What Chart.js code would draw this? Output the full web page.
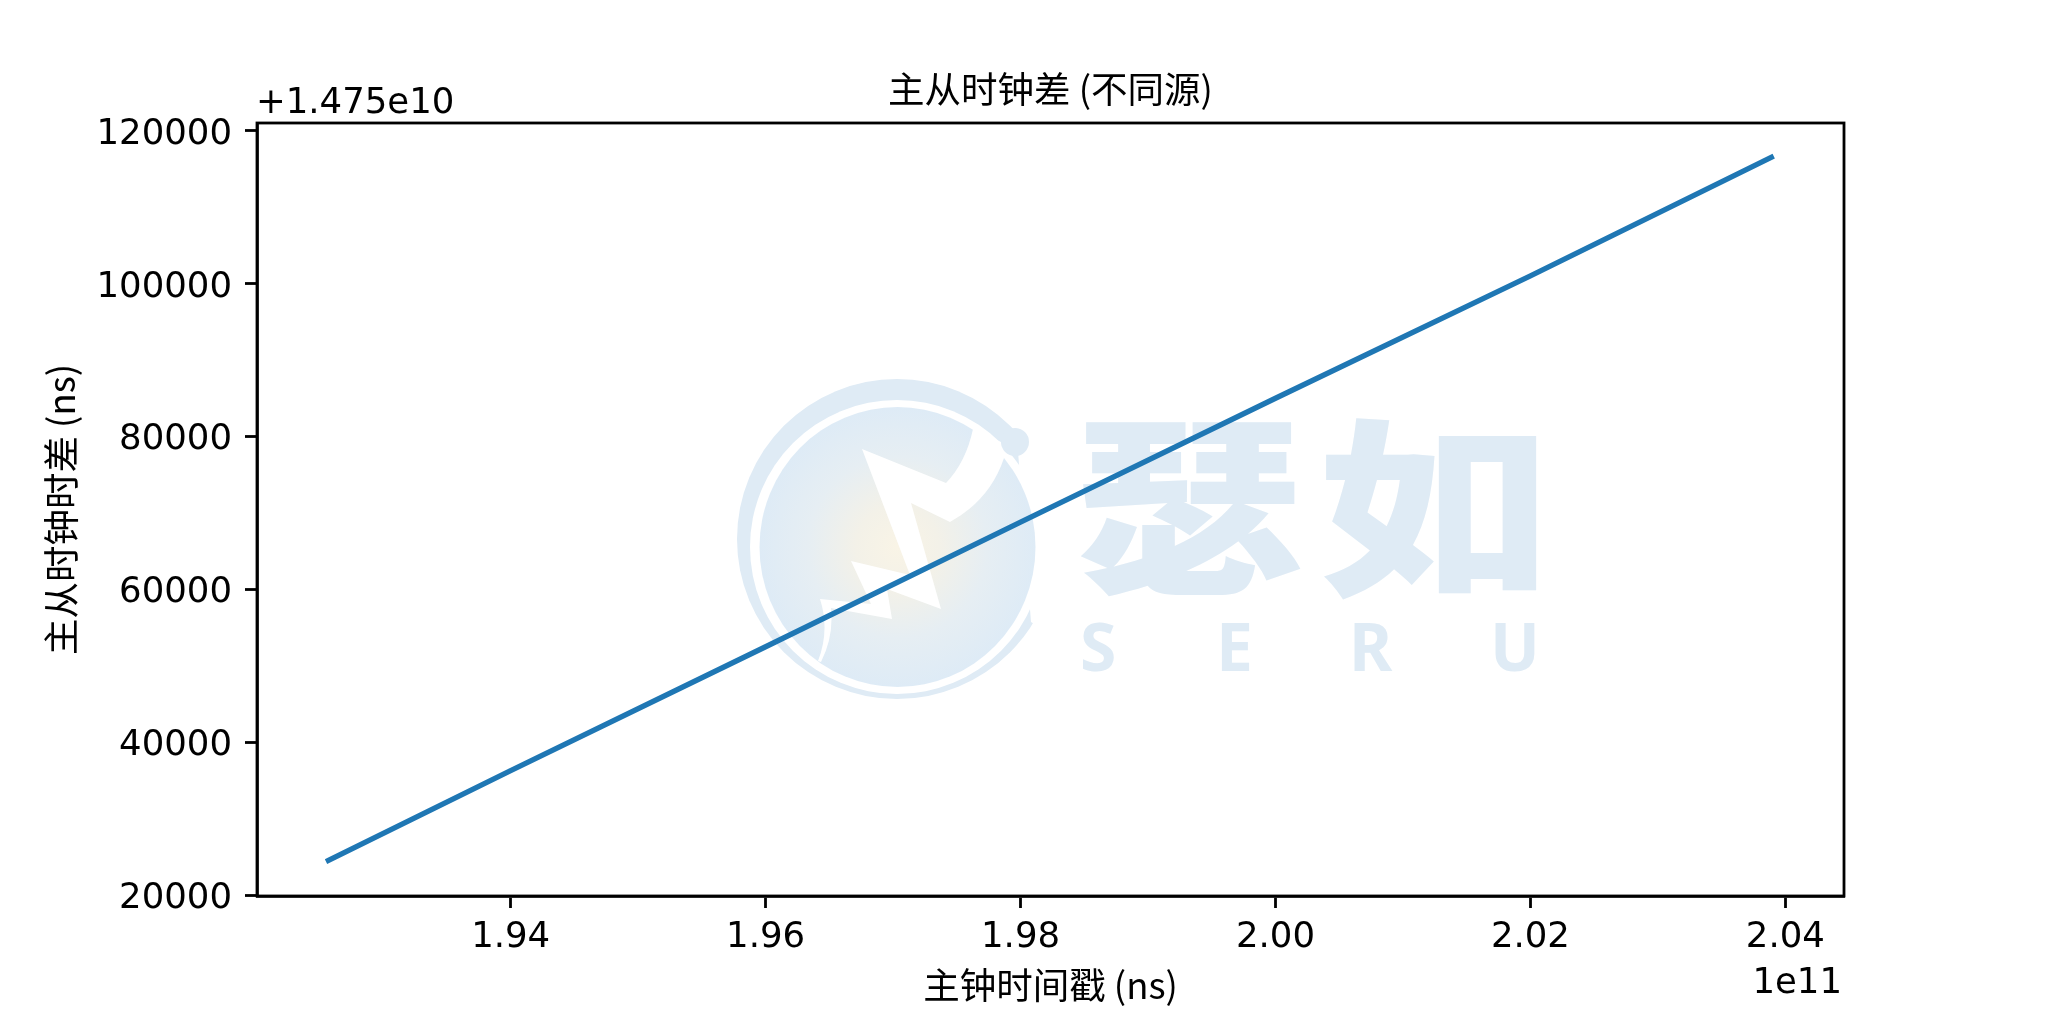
<!DOCTYPE html>
<html>
<head>
<meta charset="utf-8">
<script src="https://cdn.jsdelivr.net/npm/chart.js@4"></script>
<style>
  html, body { margin: 0; padding: 0; background: #fff; }
  #wrap { position: relative; width: 2048px; height: 1024px; overflow: hidden; }
  #wrap svg, #wrap canvas { position: absolute; left: 0; top: 0; }
</style>
</head>
<body>
<div id="wrap">
  <!-- watermark sits behind the transparent canvas -->
  <svg width="2048" height="1024" viewBox="0 0 2048 1024">
    <defs>
      <radialGradient id="disc" cx="0.5" cy="0.5" r="0.5">
        <stop offset="0" stop-color="#f9f4e6"/>
        <stop offset="0.3" stop-color="#f3f1e8"/>
        <stop offset="0.65" stop-color="#e6eef3"/>
        <stop offset="1" stop-color="#deebf6"/>
      </radialGradient>
    </defs>
    <circle cx="897" cy="539" r="160" fill="#dfebf5"/>
    <circle cx="897" cy="547" r="147" fill="#fff"/>
    <polygon fill="#fff" points="1016,425 1075,395 1075,650 1031,622"/>
    <ellipse cx="897.5" cy="547" rx="138" ry="140" fill="url(#disc)"/>
    <path fill="#fff" d="M862 449 L946 483 Q966 462 973 429 L1001 442 L1004 458 Q990 500 950 522 L911 503 L941 609 L887 589 L892 619 L831 608 Q834 636 821 662 L818 661 Q830 630 820 599 L871 604 L851 561 L910 575 Z"/>
    <circle cx="1015" cy="442" r="14" fill="#dfebf5"/>
    <g fill="#dfebf5" font-family="'Noto Sans CJK SC'" font-weight="900" font-size="232">
      <text transform="translate(1072 577) scale(1 0.82)">瑟</text>
      <text transform="translate(1318 580) scale(1 0.82)">如</text>
    </g>
    <text fill="#dfebf5" font-family="'Noto Sans'" font-weight="700" font-size="66" x="1080 1216 1349 1490" y="671">SERU</text>
  </svg>
  <canvas id="clockChart" width="2048" height="1024"></canvas>
</div>
<script>
const masterTimes = [1.9257e11, 1.9400e11, 1.9600e11, 1.9800e11, 2.0000e11, 2.0200e11, 2.0389e11];
const clockDiff = [24550, 36300, 52500, 68800, 85000, 101000, 116500];
const xTicks = [1.94e11, 1.96e11, 1.98e11, 2.00e11, 2.02e11, 2.04e11];
const yTicks = [20000, 40000, 60000, 80000, 100000, 120000];

const FONT = "'DejaVu Sans', 'Noto Sans CJK SC', sans-serif";
const CJK_FONT = "'Noto Sans CJK SC', sans-serif";
const FONT_SIZE = 35.5;
const CJK_SIZE = 36.5;

// box round the plot, y tick labels and the matplotlib style offset labels
const framePlugin = {
    id: 'frame',
    afterDraw(chart) {
        const { ctx, chartArea: a, scales } = chart;
        ctx.save();
        ctx.strokeStyle = '#000';
        ctx.lineWidth = 2.8;
        ctx.strokeRect(a.left, a.top, a.right - a.left, a.bottom - a.top);
        ctx.fillStyle = '#000';
        ctx.font = FONT_SIZE + 'px ' + FONT;
        ctx.textBaseline = 'alphabetic';
        ctx.textAlign = 'right';
        yTicks.forEach(v => {
            ctx.fillText(String(v), a.left - 25, scales.y.getPixelForValue(v) + 13);
        });
        ctx.fillText('1e11', 1842, 993);
        ctx.textAlign = 'left';
        ctx.fillText('+1.475e10', 256, 113);
        ctx.restore();
    }
};

new Chart(document.getElementById('clockChart'), {
    type: 'line',
    data: {
        datasets: [{
            data: masterTimes.map((x, i) => ({ x: x, y: clockDiff[i] })),
            borderColor: '#1f77b4',
            borderWidth: 5.3,
            borderCapStyle: 'square',
            borderJoinStyle: 'round',
            pointRadius: 0,
            tension: 0,
        }],
    },
    options: {
        responsive: false,
        animation: false,
        layout: { padding: { top: 0, right: 204, left: 0, bottom: 0 } },
        plugins: {
            legend: { display: false },
            tooltip: { enabled: false },
            title: {
                display: true,
                text: '主从时钟差 (不同源)',
                fullSize: false,
                color: '#000',
                font: { family: CJK_FONT, size: CJK_SIZE, weight: 'normal', lineHeight: 1 },
                padding: { top: 70.5, bottom: 16 },
            },
        },
        scales: {
            x: {
                type: 'linear',
                min: 1.9201e11,
                max: 2.0446e11,
                afterBuildTicks: (scale) => { scale.ticks = xTicks.map(v => ({ value: v })); },
                afterFit: (scale) => { scale.height = 128; },
                ticks: {
                    color: '#000',
                    font: { family: FONT, size: FONT_SIZE },
                    padding: 8.5,
                    maxRotation: 0,
                    autoSkip: false,
                    callback: (v) => (v / 1e11).toFixed(2),
                },
                grid: { drawOnChartArea: false, tickLength: 12, tickWidth: 2.8, tickColor: '#000' },
                border: { color: '#000', width: 2.8 },
                title: {
                    display: true,
                    text: '主钟时间戳 (ns)',
                    color: '#000',
                    font: { family: CJK_FONT, size: CJK_SIZE },
                    padding: { top: 0, bottom: 16.5 },
                },
            },
            y: {
                type: 'linear',
                min: 19900,
                max: 121000,
                afterBuildTicks: (scale) => { scale.ticks = yTicks.map(v => ({ value: v })); },
                afterFit: (scale) => { scale.width = 257; },
                ticks: { display: false },
                grid: { drawOnChartArea: false, tickLength: 12, tickWidth: 2.8, tickColor: '#000' },
                border: { color: '#000', width: 2.8 },
                title: {
                    display: true,
                    text: '主从时钟时差 (ns)',
                    color: '#000',
                    font: { family: CJK_FONT, size: CJK_SIZE },
                    padding: { top: 39, bottom: 0 },
                },
            },
        },
    },
    plugins: [framePlugin],
});
</script>
</body>
</html>
